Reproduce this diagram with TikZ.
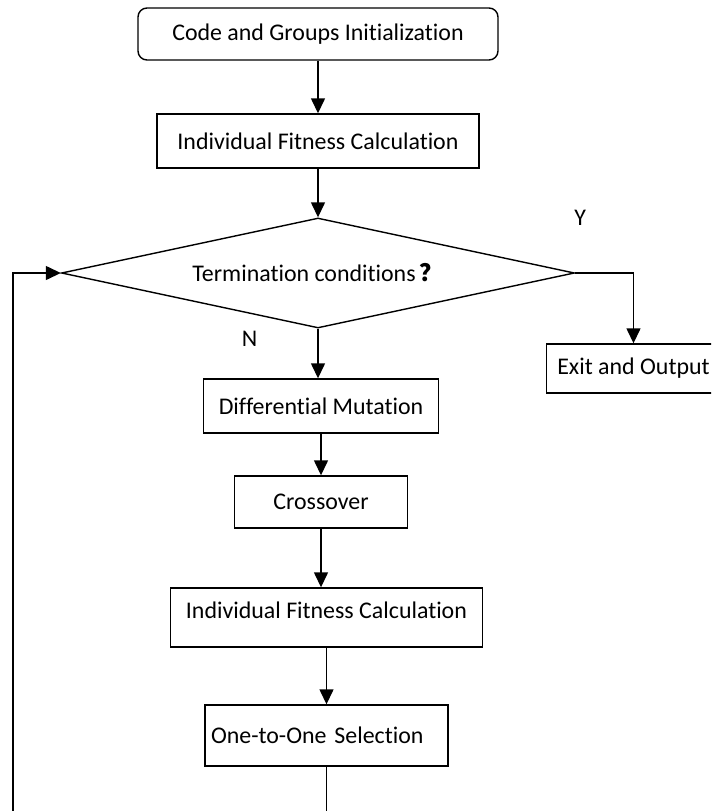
\documentclass[tikz,border=0pt]{standalone}
\usepackage{fontspec}
\setmainfont{Carlito}[Ligatures=NoCommon]
\newfontfamily\cjk{Noto Sans CJK SC}
\usetikzlibrary{shapes, arrows, positioning, calc, arrows.meta}

\begin{document}
\begin{tikzpicture}[>={Triangle[length=0.3cm, width=0.28cm]}, node distance=2.4cm, line width=0.8pt, font=\fontsize{13.6}{15}\selectfont]
    \useasboundingbox (0,0) rectangle (14.22,-16.22);
    \clip (0,0) rectangle (14.22,-16.22);

    \node[draw, rounded corners=0.18cm, minimum width=7.2cm, minimum height=1.04cm] (init) at (6.36,-0.68) {Code and Groups Initialization};
    \node[draw, below of=init, yshift=0.26cm, minimum width=6.44cm, minimum height=1.08cm] (fit) {Individual Fitness Calculation};

    \node[draw, diamond, aspect=4.66, inner sep=0pt, minimum width=10.26cm, minimum height=2.2cm, below of=fit, yshift=-0.24cm] (term) {Termination conditions\,{\cjk\bfseries ？}};
    \node at ($(term.east)+(0.1,1.1)$) (yes) {Y};
    \node at ($(term.south)+(-1.37,-0.2)$) (no) {N};

    \node[draw, right of=term, xshift=3.91cm, yshift=-1.91cm, minimum width=3.48cm, minimum height=0.98cm] (exit) {Exit and Output};

    \node[draw, below of=term, xshift=0.06cm, yshift=-0.26cm, minimum width=4.7cm, minimum height=1.08cm] (mut) {Differential Mutation};
    \node[draw, below of=mut, yshift=0.48cm, minimum width=3.46cm, minimum height=1.04cm] (cross) {Crossover};
    \node[draw, below of=cross, xshift=0.11cm, yshift=0.09cm, minimum width=6.24cm, minimum height=1.18cm, text height=0.35cm, text depth=0.31cm] (fit2) {Individual Fitness Calculation};
    \node[draw, below of=fit2, yshift=0.04cm, text width=4.62cm, align=left, minimum height=1.22cm] (sel) {One-to-One Selection};

    % loop back runs below the page edge
    \coordinate (back) at (0.26,-17);

    \draw[->] (init) -- (fit);
    \draw[->] (fit) -- (term);
    \draw[->] (term.east) -| (exit.north);
    \draw[->] (term.south) -- (term.south |- mut.north);
    \draw[->] (mut) -- (cross);
    \draw[->] (cross.south) -- (cross.south |- fit2.north);
    \draw[->] (fit2.south) -- (fit2.south |- sel.north);
    \draw[->] (sel.south) -- (sel.south |- back) -- (back) |- (term.west);
\end{tikzpicture}
\end{document}
